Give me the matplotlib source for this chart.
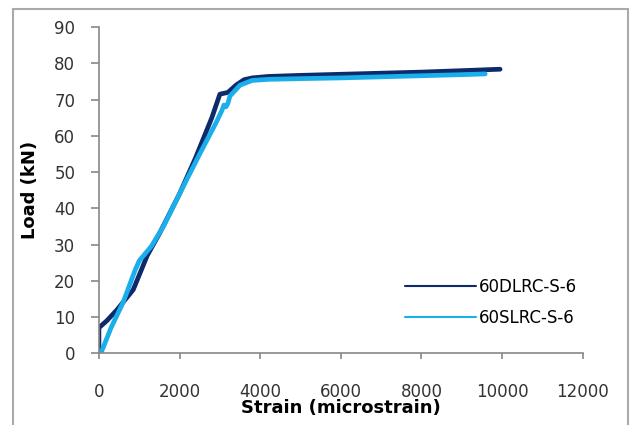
import matplotlib
matplotlib.use("Agg")
import matplotlib.pyplot as plt
from matplotlib.patches import Rectangle

# 60DLRC-S-6
strain_d = [0, 0, 200, 450, 850, 1200, 1500, 2000, 2400, 2800, 3000, 3200, 3400, 3600,
            3800, 4200, 5000, 6000, 7000, 8000, 9000, 9950]
load_d = [0, 7, 9, 12, 17.5, 27, 33, 44, 54, 65, 71.5, 72, 74, 75.5,
          76, 76.4, 76.7, 77, 77.3, 77.6, 78, 78.4]

# 60SLRC-S-6
strain_s = [50, 300, 600, 900, 1000, 1300, 1600, 2000, 2500, 2900, 3050, 3100, 3150,
            3200, 3250, 3500, 3800, 4200, 5000, 6000, 7000, 8000, 9000, 9580]
load_s = [0, 7, 14, 23, 25.5, 29.5, 35, 44, 55, 63.5, 67, 68.5, 68, 69, 71, 74, 75.3,
          75.6, 75.8, 76, 76.3, 76.6, 76.9, 77.1]

xticks = [0, 2000, 4000, 6000, 8000, 10000, 12000]
yticks = [0, 10, 20, 30, 40, 50, 60, 70, 80, 90]

fig = plt.figure(figsize=(6.3, 4.25), dpi=100)
ax = fig.add_axes([0.157, 0.169, 0.768, 0.767])

ax.plot(strain_d, load_d, color="#0d2a6b", lw=3.4, solid_capstyle="round",
        solid_joinstyle="round", label="60DLRC-S-6")
ax.plot(strain_s, load_s, color="#1aaeea", lw=3.4, solid_capstyle="round",
        solid_joinstyle="round", label="60SLRC-S-6")

ax.set_xlim(0, 12000)
ax.set_ylim(0, 90)
ax.set_xticks(xticks)
ax.set_yticks(yticks)
for s in ["top", "right"]:
    ax.spines[s].set_visible(False)
for s in ["left", "bottom"]:
    ax.spines[s].set_color("#888888")
    ax.spines[s].set_linewidth(1.2)
ax.tick_params(axis="both", direction="out", color="#888888", labelsize=12,
               labelcolor="#333333", width=1.2)
ax.tick_params(axis="x", length=4.5, pad=17)
ax.tick_params(axis="y", length=6, pad=11)

xl = ax.set_xlabel("Strain (microstrain)", fontsize=13, fontweight="bold")
yl = ax.set_ylabel("Load (kN)", fontsize=13, fontweight="bold")
xl.set_verticalalignment("center")
yl.set_verticalalignment("center")
ax.xaxis.set_label_coords(0.5, -0.169)
ax.yaxis.set_label_coords(-0.143, 0.5)

leg = ax.legend(loc="center left", bbox_to_anchor=(0.632, 0.156), frameon=False,
                fontsize=12, handlelength=4.3, handletextpad=0.15, labelspacing=0.75,
                borderpad=0, borderaxespad=0)
for line in leg.get_lines():
    line.set_linewidth(1.5)

fig.patches.append(Rectangle((13 / 630, -0.01), 615 / 630, 1 - 9 / 425 + 0.01,
                             transform=fig.transFigure, fill=False,
                             edgecolor="#aaaaaa", lw=1.5))

fig.savefig("out.png", dpi=100)
